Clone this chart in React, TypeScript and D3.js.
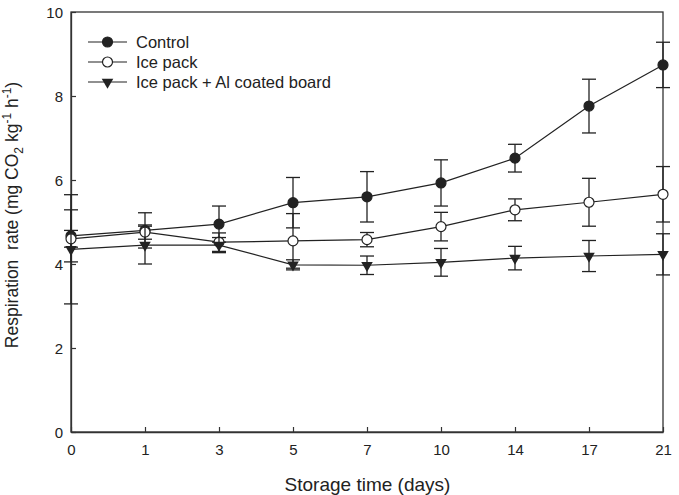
import React, { useEffect, useRef } from 'react';
import * as d3 from 'd3';

// storage days (equally spaced categories)
const days = ['0', '1', '3', '5', '7', '10', '14', '17', '21'];

const controlMean = [4.67, 4.8, 4.95, 5.46, 5.6, 5.93, 6.52, 7.76, 8.74];
const controlErr = [0.62, 0.42, 0.43, 0.6, 0.6, 0.55, 0.33, 0.64, 0.54];

const iceMean = [4.6, 4.76, 4.52, 4.55, 4.58, 4.89, 5.29, 5.47, 5.66];
const iceErr = [0.2, 0.17, 0.22, 0.65, 0.17, 0.34, 0.26, 0.57, 0.66];

const alMean = [4.35, 4.45, 4.45, 3.98, 3.97, 4.04, 4.14, 4.19, 4.23];
const alErr = [1.3, 0.45, 0.18, 0.12, 0.22, 0.33, 0.28, 0.37, 0.49];

const yTicks = [0, 2, 4, 6, 8, 10];

const seriesNames = ['Control', 'Ice pack', 'Ice pack + Al coated board'];

const W = 679;
const H = 495;

const App = () => {
  const ref = useRef(null);

  useEffect(() => {
    const svg = d3.select(ref.current);
    svg.selectAll('*').remove();

    const x = d3.scalePoint().domain(days).range([71, 663]);
    const y = d3.scaleLinear().domain([0, 10]).range([432, 12]);
    const ink = '#222';
    const font = 'Liberation Sans, Arial, sans-serif';

    // frame
    svg.append('rect')
      .attr('x', 71).attr('y', 12)
      .attr('width', 663 - 71).attr('height', 432 - 12)
      .attr('fill', 'none').attr('stroke', '#333').attr('stroke-width', 1.3);

    const xAxis = svg.append('g')
      .attr('transform', 'translate(0,432)')
      .call(d3.axisBottom(x).tickSizeInner(-5).tickSizeOuter(0).tickPadding(12));
    const yAxis = svg.append('g')
      .attr('transform', 'translate(71,0)')
      .call(d3.axisLeft(y).tickValues(yTicks).tickSizeInner(-5).tickSizeOuter(0).tickPadding(8));
    [xAxis, yAxis].forEach(g => {
      g.select('.domain').attr('stroke', '#333').attr('stroke-width', 1.3);
      g.selectAll('.tick line').attr('stroke', '#333').attr('stroke-width', 1.2);
      g.selectAll('.tick text')
        .attr('fill', '#222')
        .style('font-family', font)
        .style('font-size', '15px');
    });
    yAxis.selectAll('.tick text').attr('dy', '0.35em');

    const series = [
      { mean: controlMean, err: controlErr, kind: 'filled' },
      { mean: iceMean, err: iceErr, kind: 'open' },
      { mean: alMean, err: alErr, kind: 'tri' },
    ];

    const drawMarker = (g, kind, cx, cy) => {
      if (kind === 'tri') {
        g.append('path')
          .attr('d', d3.symbol().type(d3.symbolTriangle).size(58)())
          .attr('transform', `translate(${cx},${cy}) rotate(180)`)
          .attr('fill', ink);
      } else {
        g.append('circle')
          .attr('cx', cx).attr('cy', cy).attr('r', 5)
          .attr('fill', kind === 'filled' ? ink : '#fff')
          .attr('stroke', ink).attr('stroke-width', 1.2);
      }
    };

    const line = d3.line().x((d, i) => x(days[i])).y(d => y(d));

    series.forEach(s => {
      const g = svg.append('g');
      // error bars
      s.mean.forEach((m, i) => {
        const cx = x(days[i]);
        const hi = y(m + s.err[i]);
        const lo = y(m - s.err[i]);
        g.append('line').attr('x1', cx).attr('x2', cx).attr('y1', hi).attr('y2', lo)
          .attr('stroke', ink).attr('stroke-width', 1.3);
        [hi, lo].forEach(v => {
          g.append('line').attr('x1', cx - 7).attr('x2', cx + 7).attr('y1', v).attr('y2', v)
            .attr('stroke', ink).attr('stroke-width', 1.3);
        });
      });
      g.append('path')
        .datum(s.mean)
        .attr('d', line)
        .attr('fill', 'none')
        .attr('stroke', ink)
        .attr('stroke-width', 1.2);
      s.mean.forEach((m, i) => drawMarker(g, s.kind, x(days[i]), y(m)));
    });

    // legend
    const legend = svg.append('g');
    series.forEach((s, i) => {
      const ly = 42 + i * 20;
      legend.append('line').attr('x1', 88).attr('x2', 127).attr('y1', ly).attr('y2', ly)
        .attr('stroke', ink).attr('stroke-width', 1.2);
      drawMarker(legend, s.kind, 107.5, ly);
      legend.append('text')
        .attr('x', 136).attr('y', ly).attr('dy', '0.36em')
        .attr('fill', '#222')
        .style('font-family', font).style('font-size', '16.5px')
        .text(seriesNames[i]);
    });

    // axis titles
    svg.append('text')
      .attr('x', 367.5).attr('y', 491)
      .attr('text-anchor', 'middle')
      .attr('fill', '#222')
      .style('font-family', font).style('font-size', '19px')
      .text('Storage time (days)');

    const yt = svg.append('text')
      .attr('transform', 'translate(18,215) rotate(-90)')
      .attr('text-anchor', 'middle')
      .attr('fill', '#222')
      .style('white-space', 'pre')
      .style('font-family', font).style('font-size', '17.5px');
    yt.append('tspan').text('Respiration  rate (mg CO');
    yt.append('tspan').attr('dy', 5).style('font-size', '12px').text('2');
    yt.append('tspan').attr('dy', -5).text(' kg');
    yt.append('tspan').attr('dy', -7).style('font-size', '12px').text('-1');
    yt.append('tspan').attr('dy', 7).text(' h');
    yt.append('tspan').attr('dy', -7).style('font-size', '12px').text('-1');
    yt.append('tspan').attr('dy', 7).text(')');
  }, []);

  return (
    <svg
      ref={ref}
      width={W}
      height={H}
      style={{ position: 'absolute', left: 0, top: 0, background: '#fff' }}
    />
  );
};

export default App;
